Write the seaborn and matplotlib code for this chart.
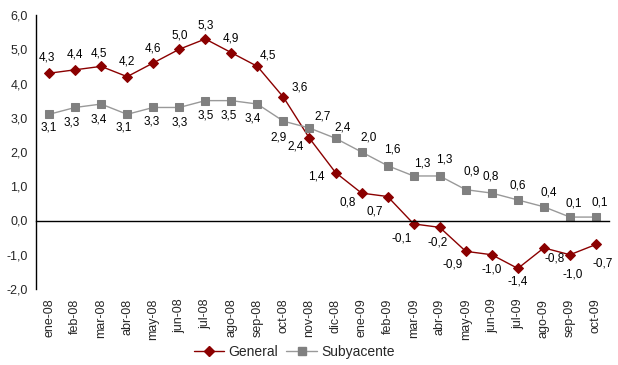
import matplotlib
matplotlib.use("Agg")
import matplotlib.pyplot as plt
import seaborn as sns
import pandas as pd
import numpy as np
from matplotlib.lines import Line2D

categories = ["ene-08", "feb-08", "mar-08", "abr-08", "may-08", "jun-08", "jul-08",
              "ago-08", "sep-08", "oct-08", "nov-08", "dic-08", "ene-09", "feb-09",
              "mar-09", "abr-09", "may-09", "jun-09", "jul-09", "ago-09", "sep-09", "oct-09"]
general = [4.3, 4.4, 4.5, 4.2, 4.6, 5.0, 5.3, 4.9, 4.5, 3.6, 2.4, 1.4, 0.8, 0.7,
           -0.1, -0.2, -0.9, -1.0, -1.4, -0.8, -1.0, -0.7]
subyacente = [3.1, 3.3, 3.4, 3.1, 3.3, 3.3, 3.5, 3.5, 3.4, 2.9, 2.7, 2.4, 2.0, 1.6,
              1.3, 1.3, 0.9, 0.8, 0.6, 0.4, 0.1, 0.1]
y_ticks = [-2, -1, 0, 1, 2, 3, 4, 5, 6]

# label offsets in pixels (style only)
gen_off = [(-2, 16), (0, 15), (-2, 13), (0, 15), (0, 14), (0, 14), (0, 13), (0, 14),
           (11, 11), (16, 10), (-14, -8), (-19, -4), (-14, -9), (-13, -15), (-12, -15),
           (-2, -15), (-13, -13), (0, -15), (0, -13), (11, -11), (3, -20), (7, -19)]
sub_off = [(0, -13), (-3, -15), (-2, -15), (-3, -13), (-2, -14), (0, -15), (0, -15),
           (-3, -15), (-5, -14), (-5, -16), (13, 12), (7, 11), (7, 15), (5, 16), (9, 12),
           (5, 16), (6, 18), (-1, 17), (0, 14), (5, 14), (4, 14), (4, 15)]

sns.set_style("white")
plt.rcParams["font.family"] = ["Liberation Sans", "DejaVu Sans"]

RED = "#8B0000"
GRAY_M = "#808080"
GRAY_L = "#999999"

fig = plt.figure(figsize=(6.18, 3.65), dpi=100)
ax = fig.add_axes([36 / 618, 1 - 289 / 365, (609 - 36) / 618, (289 - 15) / 365])

x = np.arange(len(categories))
df = pd.DataFrame({"x": x, "General": general, "Subyacente": subyacente})

sns.lineplot(data=df, x="x", y="General", ax=ax, color=RED, marker="D",
             markersize=5, markeredgecolor=RED, markerfacecolor=RED, linewidth=1.0)
sns.lineplot(data=df, x="x", y="Subyacente", ax=ax, color=GRAY_L, marker="s",
             markersize=6, markeredgecolor=GRAY_M, markerfacecolor=GRAY_M, linewidth=1.0)

def fmt(v):
    return f"{v:.1f}".replace(".", ",")

for i, v in enumerate(general):
    ax.annotate(fmt(v), (x[i], v), xytext=gen_off[i], textcoords="offset pixels",
                ha="center", va="center", fontsize=8.5, color="black")
for i, v in enumerate(subyacente):
    ax.annotate(fmt(v), (x[i], v), xytext=sub_off[i], textcoords="offset pixels",
                ha="center", va="center", fontsize=8.5, color="black")

ax.set_xlim(-0.5, len(categories) - 0.5)
ax.set_ylim(-2, 6)
ax.set_yticks(y_ticks)
ax.set_yticklabels([fmt(v) for v in y_ticks], fontsize=9)
ax.set_xlabel("")
ax.set_ylabel("")

for s in ["top", "right"]:
    ax.spines[s].set_visible(False)
ax.spines["left"].set_color("black")
ax.spines["left"].set_linewidth(1.0)
ax.spines["bottom"].set_position(("data", 0))
ax.spines["bottom"].set_color("black")
ax.spines["bottom"].set_linewidth(1.0)

ax.set_xticks(np.arange(-0.5, len(categories), 1.0))
ax.set_xticklabels([])
ax.tick_params(axis="x", direction="out", length=4, width=1, color="black")
ax.tick_params(axis="y", direction="out", length=4, width=1, color="black", pad=2)

sec = ax.secondary_xaxis("bottom")
sec.set_xticks(x)
sec.set_xticklabels(categories, rotation=90, fontsize=9)
sec.tick_params(length=0, pad=7)
sec.spines["bottom"].set_visible(False)

handles = [
    Line2D([], [], color=RED, marker="D", markersize=5, markerfacecolor=RED,
           markeredgecolor=RED, linewidth=1.0),
    Line2D([], [], color=GRAY_L, marker="s", markersize=6, markerfacecolor=GRAY_M,
           markeredgecolor=GRAY_M, linewidth=1.0),
]
fig.legend(handles, ["General", "Subyacente"], loc="center",
           bbox_to_anchor=(0.476, 0.035), ncol=2, frameon=False, fontsize=10,
           handlelength=2.2, columnspacing=0.6, handletextpad=0.3)

fig.savefig("out.png", dpi=100)
